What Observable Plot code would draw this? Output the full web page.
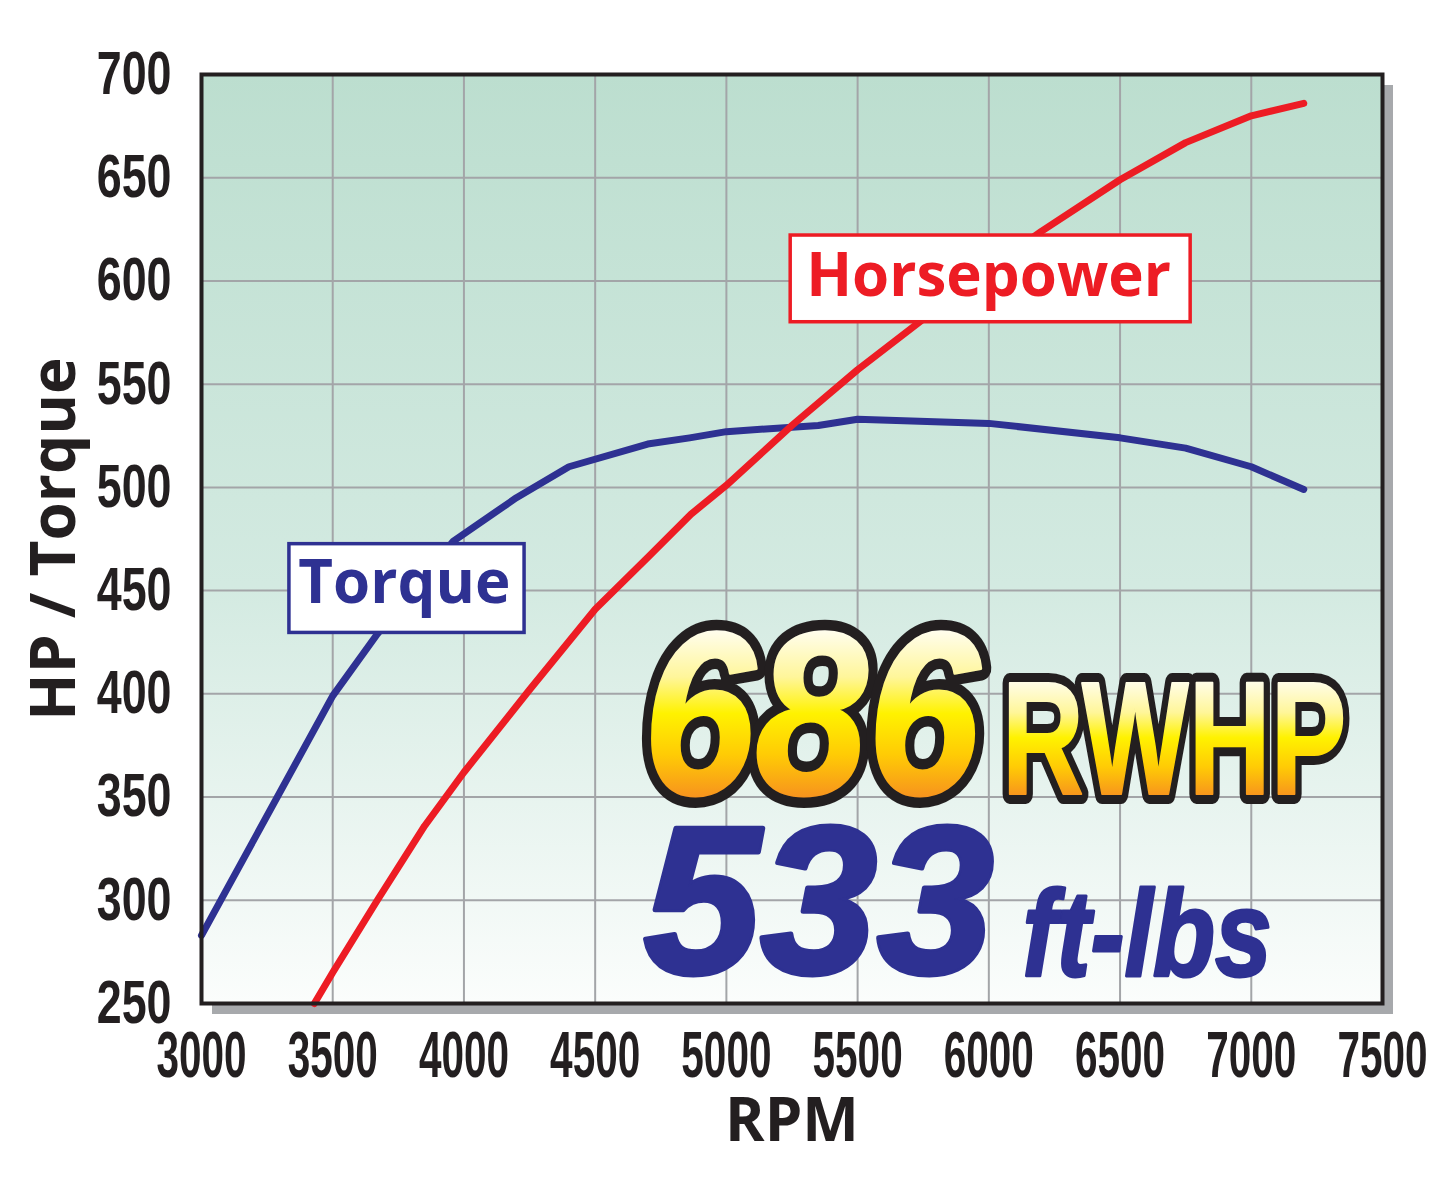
<!DOCTYPE html>
<html>
<head>
<meta charset="utf-8">
<script src="https://cdn.jsdelivr.net/npm/d3@7"></script>
<script src="https://cdn.jsdelivr.net/npm/@observablehq/plot@0.6"></script>
<style>
  html, body { margin: 0; padding: 0; background: #ffffff; }
  #chart svg { display: block; }
</style>
</head>
<body>
<div id="chart"></div>
<script>
// ---- data ----
const torqueRpm = [3000, 3500, 3670, 3960, 4200, 4400, 4700, 4860, 5000, 5350, 5500, 6000, 6500, 6750, 7000, 7200];
const torque    = [283,  399,  429,  474,  495,  510,  521,  524,  527,  530,  533,  531,  524,  519,  510,  499];
const hpRpm = [3430, 3500, 3670, 3850, 4000, 4250, 4500, 4700, 4865, 5000, 5250, 5500, 5725, 6000, 6200, 6500, 6750, 7000, 7200];
const hp    = [250,  265,  300,  336,  362,  402,  441,  466,  487,  501,  530,  557,  579,  606,  624,  649,  667,  680,  686];
const xTicks = [3000, 3500, 4000, 4500, 5000, 5500, 6000, 6500, 7000, 7500];
const yTicks = [250, 300, 350, 400, 450, 500, 550, 600, 650, 700];
const seriesNames = ["Horsepower", "Torque"];
const peakHp = ["686"];
const peakHpUnit = ["RWHP"];
const peakTq = ["533"];
const peakTqUnit = ["ft-lbs"];
const xLabel = ["RPM"];
const yLabel = ["HP / Torque"];

const torqueData = torqueRpm.map((r, i) => ({rpm: r, value: torque[i]}));
const hpData = hpRpm.map((r, i) => ({rpm: r, value: hp[i]}));

const sans = "'Liberation Sans', Arial, sans-serif";
const bold = "'Open Sans', 'Noto Sans', sans-serif";
const RED = "#ed1c24", BLUE = "#2e3192", GRID = "#a3a5a8", INK = "#231f20";

const x0 = xTicks[0], x1 = xTicks[xTicks.length - 1];
const y0 = yTicks[0], y1 = yTicks[yTicks.length - 1];

const chart = Plot.plot({
  width: 1445,
  height: 1201,
  marginLeft: 201,
  marginRight: 63,
  marginTop: 74,
  marginBottom: 198,
  x: {domain: [x0, x1]},
  y: {domain: [y0, y1]},
  style: {background: "#ffffff", fontFamily: sans, overflow: "visible", color: INK},
  marks: [
    // drop shadow and gradient panel
    Plot.rect([0], {x1: x0, x2: x1, y1: y0, y2: y1, dx: 11, dy: 11, fill: "#a7a9ac"}),
    Plot.rect([0], {x1: x0, x2: x1, y1: y0, y2: y1, fill: "url(#bgGrad)"}),
    Plot.gridX({ticks: xTicks.slice(1, -1), stroke: GRID, strokeOpacity: 1, strokeWidth: 2}),
    Plot.gridY({ticks: yTicks.slice(1, -1), stroke: GRID, strokeOpacity: 1, strokeWidth: 2}),
    // series
    Plot.line(torqueData, {x: "rpm", y: "value", stroke: BLUE, strokeWidth: 7, strokeLinecap: "round", strokeLinejoin: "round"}),
    Plot.line(hpData, {x: "rpm", y: "value", stroke: RED, strokeWidth: 7, strokeLinecap: "round", strokeLinejoin: "round"}),
    // series label boxes
    Plot.rect([seriesNames[0]], {x1: 5245, x2: 6769, y1: 580, y2: 622, fill: "white", stroke: RED, strokeWidth: 3.5}),
    Plot.text([seriesNames[0]], {x: 5999, y: 602, text: d => d, fill: RED, fontSize: 60, fontWeight: 700, fontFamily: bold, letterSpacing: 5, lineAnchor: "middle", textAnchor: "middle"}),
    Plot.rect([seriesNames[1]], {x1: 3335, x2: 4231, y1: 429.5, y2: 472.5, fill: "white", stroke: BLUE, strokeWidth: 3.5}),
    Plot.text([seriesNames[1]], {x: 3773, y: 453.5, text: d => d, fill: BLUE, fontSize: 60, fontWeight: 700, fontFamily: bold, letterSpacing: 5, lineAnchor: "middle", textAnchor: "middle"}),
    // big callouts
    Plot.text(peakHp, {x: 4682, y: 351.5, text: d => d, fontSize: 232, fontWeight: 700, fontStyle: "italic", fontFamily: sans, lineAnchor: "bottom", textAnchor: "start", fill: INK, stroke: INK, strokeWidth: 24, strokeLinejoin: "round"}),
    Plot.text(peakHp, {x: 4682, y: 351.5, text: d => d, fontSize: 232, fontWeight: 700, fontStyle: "italic", fontFamily: sans, lineAnchor: "bottom", textAnchor: "start", fill: "url(#goldGrad)", stroke: "url(#goldGrad)", strokeWidth: 3, strokeLinejoin: "round"}),
    Plot.text(peakHpUnit, {x: 6050, y: 351.5, text: d => d, fontSize: 162, fontWeight: 700, fontFamily: sans, lineAnchor: "bottom", textAnchor: "start", fill: INK, stroke: INK, strokeWidth: 20, strokeLinejoin: "round"}),
    Plot.text(peakHpUnit, {x: 6050, y: 351.5, text: d => d, fontSize: 162, fontWeight: 700, fontFamily: sans, lineAnchor: "bottom", textAnchor: "start", fill: "url(#goldGrad)", stroke: "url(#goldGrad)", strokeWidth: 2}),
    Plot.text(peakTq, {x: 4684, y: 265, text: d => d, fontSize: 210, fontWeight: 700, fontStyle: "italic", fontFamily: sans, lineAnchor: "bottom", textAnchor: "start", fill: BLUE, stroke: BLUE, strokeWidth: 5, strokeLinejoin: "round"}),
    Plot.text(peakTqUnit, {x: 6128, y: 263.5, text: d => d, fontSize: 123, fontWeight: 700, fontStyle: "italic", fontFamily: sans, lineAnchor: "bottom", textAnchor: "start", fill: BLUE, stroke: BLUE, strokeWidth: 3, strokeLinejoin: "round"}),
    // axes
    Plot.axisX({ticks: xTicks, tickSize: 0, tickPadding: 28, fontSize: 54, label: null, tickFormat: d => String(d)}),
    Plot.axisY({ticks: yTicks, tickSize: 0, tickPadding: 30, fontSize: 54, label: null, tickFormat: d => String(d)}),
    Plot.text(xLabel, {frameAnchor: "bottom", dy: 95, text: d => d, lineAnchor: "top", fontSize: 60, fontWeight: 700, fontFamily: bold, fill: INK}),
    Plot.text(yLabel, {frameAnchor: "left", dx: -146, rotate: -90, text: d => d, lineAnchor: "middle", textAnchor: "middle", fontSize: 62, fontWeight: 700, fontFamily: bold, letterSpacing: 2, fill: INK}),
    Plot.frame({stroke: INK, strokeWidth: 4})
  ]
});

// gradient definitions
const svg = d3.select(chart);
const defs = svg.insert("defs", ":first-child");
const bg = defs.append("linearGradient").attr("id", "bgGrad").attr("x1", 0).attr("y1", 0).attr("x2", 0).attr("y2", 1);
bg.append("stop").attr("offset", "0%").attr("stop-color", "#bcdecf");
bg.append("stop").attr("offset", "55%").attr("stop-color", "#d3eae1");
bg.append("stop").attr("offset", "100%").attr("stop-color", "#fbfdfc");
const gold = defs.append("linearGradient").attr("id", "goldGrad").attr("x1", 0).attr("y1", 0).attr("x2", 0).attr("y2", 1);
gold.append("stop").attr("offset", "0.17").attr("stop-color", "#fffef2");
gold.append("stop").attr("offset", "0.36").attr("stop-color", "#fff69a");
gold.append("stop").attr("offset", "0.5").attr("stop-color", "#fff200");
gold.append("stop").attr("offset", "0.66").attr("stop-color", "#ffcb05");
gold.append("stop").attr("offset", "0.82").attr("stop-color", "#f7941d");

// condense / stretch texts to mimic the condensed display faces
function addScale(node, sx, sy) {
  const t = node.getAttribute("transform") || "";
  node.setAttribute("transform", `${t} scale(${sx},${sy})`);
}
svg.selectAll('g[aria-label="x-axis tick label"], g[aria-label="y-axis tick label"]')
  .attr("font-weight", 700).attr("font-family", sans).attr("fill", INK);
svg.selectAll('g[aria-label="x-axis tick label"] text').each(function() { addScale(this, 0.75, 1.19); });
svg.selectAll('g[aria-label="y-axis tick label"] text').each(function() { addScale(this, 0.83, 1.12); });
const condense = new Map([[peakHp[0], 0.87], [peakHpUnit[0], 0.7], [peakTqUnit[0], 0.83]]);
svg.selectAll("text").each(function() {
  const k = condense.get(this.textContent);
  if (k) addScale(this, k, 1);
});

document.getElementById("chart").appendChild(chart);
</script>
</body>
</html>
